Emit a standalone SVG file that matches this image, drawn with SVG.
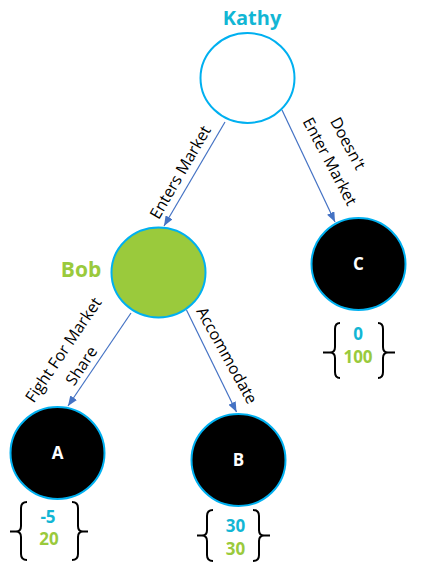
<svg xmlns="http://www.w3.org/2000/svg" width="425" height="564" viewBox="0 0 425 564">
<style>
.node{stroke:#00B0F0;stroke-width:2}
.lbl{font-family:"Open Sans","Liberation Sans",sans-serif;font-size:16px;fill:#000}
.player{font-family:"Open Sans","Liberation Sans",sans-serif;font-weight:bold}
.leaf{font-family:"Open Sans","Liberation Sans",sans-serif;font-weight:bold;font-size:17px;fill:#fff}
.pay{font-family:"Open Sans","Liberation Sans",sans-serif;font-weight:bold;font-size:17px}
.cy{fill:#12B6D4}
.gr{fill:#9ACA3C}
.edge{stroke:#4472C4;stroke-width:1.2;fill:none;marker-end:url(#ah)}
.brace{stroke:#000;stroke-width:2;fill:none}
</style>
<defs>
<marker id="ah" markerWidth="10" markerHeight="8" refX="10" refY="4" orient="auto" markerUnits="userSpaceOnUse">
<path d="M0,0 L10,4 L0,8 Z" fill="#4472C4"/>
</marker>
</defs>
<g id="connectors">
<line class="edge" x1="225" y1="122" x2="164" y2="226"/>
<line class="edge" x1="282" y1="110" x2="335" y2="222"/>
<line class="edge" x1="131" y1="313" x2="68" y2="406"/>
<line class="edge" x1="186.5" y1="310" x2="236.5" y2="412"/>
<text class="lbl" text-anchor="middle" transform="translate(185,175) rotate(-59.8)">Enters Market</text>
<text class="lbl" text-anchor="middle" transform="translate(343,146) rotate(62)">Doesn't</text>
<text class="lbl" text-anchor="middle" transform="translate(325,164) rotate(62)">Enter Market</text>
<text class="lbl" text-anchor="middle" transform="translate(68,353) rotate(-56)">Fight For Market</text>
<text class="lbl" text-anchor="middle" transform="translate(86,369) rotate(-56)">Share</text>
<text class="lbl" text-anchor="middle" transform="translate(222,358) rotate(61)">Accommodate</text>
</g>
<g id="kathy">
<text class="player cy" x="252" y="25" font-size="20" text-anchor="middle">Kathy</text>
<ellipse class="node" cx="247.5" cy="78" rx="47" ry="45" fill="#fff"/>
</g>
<g id="bob">
<text class="player gr" x="81" y="277" font-size="21" text-anchor="middle">Bob</text>
<ellipse class="node" cx="158.5" cy="272.5" rx="47" ry="45" fill="#9ACA3C"/>
</g>
<g id="nodeC">
<ellipse class="node" cx="358.5" cy="264" rx="47" ry="46" fill="#000"/>
<text class="leaf" x="358.5" y="270" text-anchor="middle">C</text>
<path class="brace" d="M340,323 Q335,323 335,329 L335,347 Q335,352.5 330,352.5 L323,352.5 M330,352.5 Q335,352.5 335,358 L335,372 Q335,378 340,378"/>
<path class="brace" d="M378,323 Q383,323 383,329 L383,347 Q383,352.5 388,352.5 L395,352.5 M388,352.5 Q383,352.5 383,358 L383,372 Q383,378 378,378"/>
<text class="pay cy" x="358" y="340" text-anchor="middle">0</text>
<text class="pay gr" x="358" y="363" text-anchor="middle">100</text>
</g>
<g id="nodeA">
<ellipse class="node" cx="57.5" cy="453" rx="47" ry="46" fill="#000"/>
<text class="leaf" x="57.5" y="459" text-anchor="middle">A</text>
<path class="brace" d="M27,502 Q21,502 21,508 L21,526 Q21,531.5 16,531.5 L10,531.5 M16,531.5 Q21,531.5 21,537 L21,554 Q21,560 27,560"/>
<path class="brace" d="M72,502 Q78,502 78,508 L78,526 Q78,531.5 83,531.5 L88,531.5 M83,531.5 Q78,531.5 78,537 L78,554 Q78,560 72,560"/>
<text class="pay cy" x="48" y="523" text-anchor="middle">-5</text>
<text class="pay gr" x="49" y="545" text-anchor="middle">20</text>
</g>
<g id="nodeB">
<ellipse class="node" cx="238.5" cy="460" rx="47" ry="46" fill="#000"/>
<text class="leaf" x="238.5" y="466" text-anchor="middle">B</text>
<path class="brace" d="M213,510 Q207,510 207,516 L207,530 Q207,535.5 202,535.5 L197,535.5 M202,535.5 Q207,535.5 207,541 L207,555 Q207,561 213,561"/>
<path class="brace" d="M253,510 Q259,510 259,516 L259,530 Q259,535.5 264,535.5 L270,535.5 M264,535.5 Q259,535.5 259,541 L259,555 Q259,561 253,561"/>
<text class="pay cy" x="235.5" y="532" text-anchor="middle">30</text>
<text class="pay gr" x="235.5" y="555" text-anchor="middle">30</text>
</g>
</svg>
